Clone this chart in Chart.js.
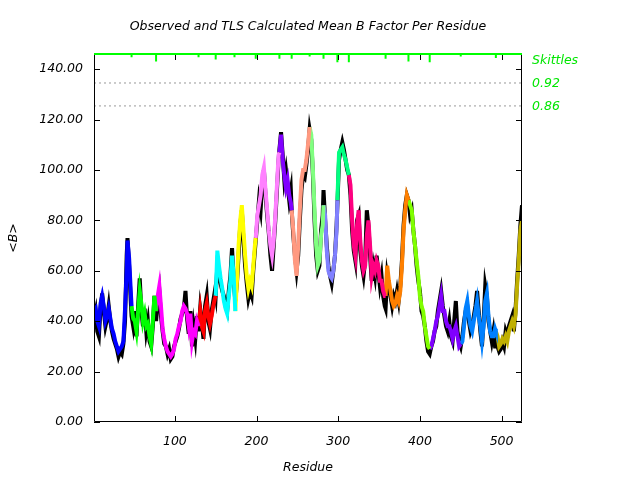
<!DOCTYPE html>
<html>
<head>
<meta charset="utf-8">
<script src="https://cdn.jsdelivr.net/npm/chart.js@4.4.1/dist/chart.umd.min.js"></script>
<style>
  body { margin: 0; background: #fff; }
  canvas { display: block; }
</style>
</head>
<body>
<canvas id="bChart" width="640" height="480"></canvas>
<script>

// residue numbers sampled along the chain
const residues = [
    1,3,5,7,9,11,13,15,17,19,21,23,25,27,29,31,33,35,37,39,41,42,44,46,47,
    49,51,53,55,57,59,61,63,65,67,69,71,73,75,77,
    79,81,83,85,87,89,91,93,95,97,99,101,103,105,107,109,111,113,115,117,119,121,123,125,127,129,
    131,133,135,137,139,141,143,145,147,149,150,
    152,154,156,158,160,162,164,166,168,170,172,174,
    176,178,180,182,184,186,188,190,192,194,196,198,199,
    201,203,205,207,209,211,213,215,217,219,221,223,225,227,228,
    230,232,234,236,238,240,242,243,
    245,247,249,251,253,255,257,259,261,263,265,
    267,269,271,273,275,277,279,281,282,
    284,286,288,290,292,294,296,298,299,
    301,303,305,307,309,311,313,
    315,317,319,321,323,325,327,329,331,333,335,337,339,341,343,345,347,349,351,353,355,357,358,
    360,362,364,366,368,370,372,374,376,378,380,382,384,386,
    388,390,392,394,396,398,400,402,404,406,408,410,412,
    414,416,418,420,422,424,426,428,430,432,434,436,438,440,442,444,446,448,450,
    452,454,456,458,460,462,464,466,468,470,472,474,476,478,480,482,484,486,488,490,492,493,
    495,497,499,501,503,505,507,509,511,513,515,517,519,521,523,525
];

// observed mean B (black)
const observed = [
    41,44,36,34,45,51,44,38,41,46,40,36,33,31,29,26,28,27,31,40,66,73,62,48,42,
    38,44,34,46,57,44,38,45,36,40,32,30,38,50,40,
    48,52,42,36,31,30,27,29,25,26,30,32,34,37,41,43,45,52,41,35,44,30,38,33,42,36,
    45,40,33,46,50,40,37,44,48,52,50,
    62,60,55,52,50,46,44,52,58,69,56,48,
    55,66,78,84,72,62,55,49,52,50,60,68,72,
    80,88,84,95,100,90,82,75,66,60,70,80,92,104,108,
    115,106,96,100,94,88,92,84,
    74,66,60,66,80,92,98,97,102,108,116,
    112,98,80,66,60,62,76,82,92,
    80,70,62,58,55,60,66,78,86,
    104,108,111,108,104,100,98,
    90,76,68,64,80,82,68,62,58,64,84,78,66,56,62,58,66,60,54,58,50,46,45,
    58,54,50,46,50,48,52,48,54,64,78,86,90,88,
    82,84,76,70,62,56,52,44,42,38,32,28,27,
    30,32,36,38,44,48,52,46,42,38,36,40,34,32,40,48,36,32,30,
    34,40,44,46,40,36,38,42,46,52,44,36,30,40,54,50,40,36,32,36,30,32,
    30,28,29,32,30,36,34,38,40,42,36,44,56,66,78,86
];

// TLS calculated mean B (coloured by TLS group)
const calculated = [
    44,45,40,38,47,50,46,40,42,45,41,37,35,32,30,28,29,30,32,45,60,72,65,52,46,
    41,40,36,44,52,47,40,43,38,39,34,31,40,50,44,
    50,54,46,37,33,30,28,27,26,27,29,33,35,38,40,44,46,45,43,38,43,32,36,35,40,38,
    44,38,36,44,47,42,39,42,46,49,50,
    68,62,57,53,48,45,43,50,56,66,58,44,
    56,70,80,86,76,66,58,53,56,54,62,70,73,
    82,86,90,98,101,92,84,76,70,66,72,82,94,106,107,
    114,104,98,93,96,90,87,84,
    76,64,58,70,84,96,100,100,104,110,117,
    114,100,84,70,62,64,74,78,86,
    82,68,60,58,57,60,66,76,88,
    107,108,109,106,104,101,98,
    94,80,70,66,78,84,72,64,60,62,74,80,70,58,62,60,64,62,56,56,52,50,50,
    62,56,52,48,46,47,50,48,52,62,76,84,90,88,
    86,84,76,70,64,58,50,46,44,38,34,30,29,
    30,33,36,40,42,46,50,44,44,40,38,38,36,33,36,38,34,30,31,
    32,38,45,48,42,38,36,40,44,48,42,38,32,38,48,51,42,36,34,34,37,36,
    34,30,31,33,32,34,32,36,38,40,38,42,54,64,76,80
];

// first residue of each TLS group
const groupStarts = [1,47,77,129,150,174,199,228,243,265,282,299,313,358,386,412,450,493];
const groupColors = [
    "#0000ff","#00ff00","#ff00ff","#ff0000","#00ffff","#ffff00","#ff80ff","#8000ff","#ff9980",
    "#80ff80","#8080ff","#00ff80","#ff0080","#ff8000","#80ff00","#8000ff","#0080ff","#c0b000"
];

// skittles: group boundaries and their mark depth
const skittleResidues = [47,77,129,150,173,199,228,243,265,282,299,313,358,386,412,450,493];
const skittleDepth = [1.3,3,1.3,2.2,1.3,1.9,1.9,1.9,1,1.9,3.3,3.3,1.9,3,3.3,1,1.6];
const thresholdValues = [134.5, 125.4];
const thresholdLabels = ["0.92", "0.86"];

const xTicks = [100, 200, 300, 400, 500];
const yTicks = [0, 20, 40, 60, 80, 100, 120, 140];
const xMin = 1, xMax = 525, yMin = 0, yMax = 146;

const FONT = "DejaVu Sans";
const GREEN = "#00ff00";

function points(values, from, to) {
    const out = [];
    for (let i = 0; i < residues.length; i++) {
        if (residues[i] >= from && residues[i] <= to) out.push({ x: residues[i], y: values[i] });
    }
    return out;
}

const datasets = [];

datasets.push({
    label: "Observed",
    data: points(observed, xMin, xMax),
    borderColor: "#000000",
    borderWidth: 4,
    order: 10
});

groupStarts.forEach((start, g) => {
    const end = g + 1 < groupStarts.length ? groupStarts[g + 1] : xMax;
    datasets.push({
        label: "TLS group " + (g + 1),
        data: points(calculated, start, end),
        borderColor: groupColors[g],
        borderWidth: 4,
        order: 5
    });
});

// threshold lines (dotted grey)
thresholdValues.forEach(v => {
    datasets.push({
        label: "threshold",
        data: [{ x: xMin, y: v }, { x: xMax, y: v }],
        borderColor: "#999999",
        borderWidth: 1,
        borderDash: [2, 3],
        order: 2
    });
});

// skittle marks hanging from the top edge
const skittleData = [];
skittleResidues.forEach((r, i) => {
    skittleData.push({ x: r, y: yMax }, { x: r, y: yMax - skittleDepth[i] }, { x: r, y: null });
});
datasets.push({
    label: "Skittles",
    data: skittleData,
    borderColor: GREEN,
    borderWidth: 2,
    spanGaps: false,
    order: 0
});

const framePlugin = {
    id: "frame",
    afterDraw(chart) {
        const { ctx, chartArea: a, scales } = chart;
        ctx.save();
        ctx.setLineDash([]);
        ctx.strokeStyle = "#000000";
        ctx.lineWidth = 1;
        ctx.beginPath();
        ctx.rect(a.left + 0.5, a.top + 0.5, a.right - a.left - 1, a.bottom - a.top - 1);
        yTicks.forEach(v => {
            const y = Math.round(scales.y.getPixelForValue(v)) + 0.5;
            ctx.moveTo(a.left, y); ctx.lineTo(a.left + 6, y);
            ctx.moveTo(a.right, y); ctx.lineTo(a.right - 6, y);
        });
        xTicks.forEach(v => {
            const x = Math.round(scales.x.getPixelForValue(v)) + 0.5;
            ctx.moveTo(x, a.bottom); ctx.lineTo(x, a.bottom - 6);
            ctx.moveTo(x, a.top); ctx.lineTo(x, a.top + 6);
        });
        ctx.stroke();

        // green top edge
        ctx.strokeStyle = GREEN;
        ctx.lineWidth = 2;
        ctx.beginPath();
        ctx.moveTo(a.left, a.top); ctx.lineTo(a.right, a.top);
        ctx.stroke();

        ctx.font = "italic 12.5px '" + FONT + "'";
        ctx.textBaseline = "middle";
        ctx.textAlign = "left";
        ctx.fillStyle = "#00e600";
        ctx.fillText("Skittles", a.right + 10, a.top + 7);
        thresholdValues.forEach((v, i) => {
            ctx.fillText(thresholdLabels[i], a.right + 10, scales.y.getPixelForValue(v) + 1);
        });

        ctx.fillStyle = "#000";
        ctx.textAlign = "center";
        ctx.fillText("Observed and TLS Calculated Mean B Factor Per Residue", (a.left + a.right) / 2, 27);
        ctx.restore();
    }
};

const tickFont = { family: FONT, size: 12.5, style: "italic" };

new Chart(document.getElementById("bChart").getContext("2d"), {
    type: "line",
    data: { datasets: datasets },
    options: {
        responsive: false,
        animation: false,
        elements: { point: { radius: 0 }, line: { tension: 0, borderCapStyle: "butt" } },
        layout: { padding: { top: 54, right: 118, left: 0, bottom: 0 } },
        plugins: { legend: { display: false }, tooltip: { enabled: false }, title: { display: false } },
        scales: {
            x: {
                type: "linear",
                min: xMin,
                max: xMax,
                grid: { display: false, drawTicks: false },
                border: { display: false },
                afterBuildTicks: s => { s.ticks = xTicks.map(v => ({ value: v })); },
                afterFit: s => { s.height = 58; },
                ticks: { color: "#000", font: tickFont, padding: 12, maxRotation: 0, callback: v => String(v) },
                title: { display: true, text: "Residue", color: "#000", font: tickFont, padding: { bottom: 5 } }
            },
            y: {
                min: yMin,
                max: yMax,
                grid: { display: false, drawTicks: false },
                border: { display: false },
                afterBuildTicks: s => { s.ticks = yTicks.map(v => ({ value: v })); },
                afterFit: s => { s.width = 94; },
                ticks: { color: "#000", font: tickFont, padding: 11, callback: v => Number(v).toFixed(2) },
                title: { display: true, text: "<B>", color: "#000", font: tickFont, padding: { top: 6 } }
            }
        }
    },
    plugins: [framePlugin]
});
</script>
</body>
</html>
